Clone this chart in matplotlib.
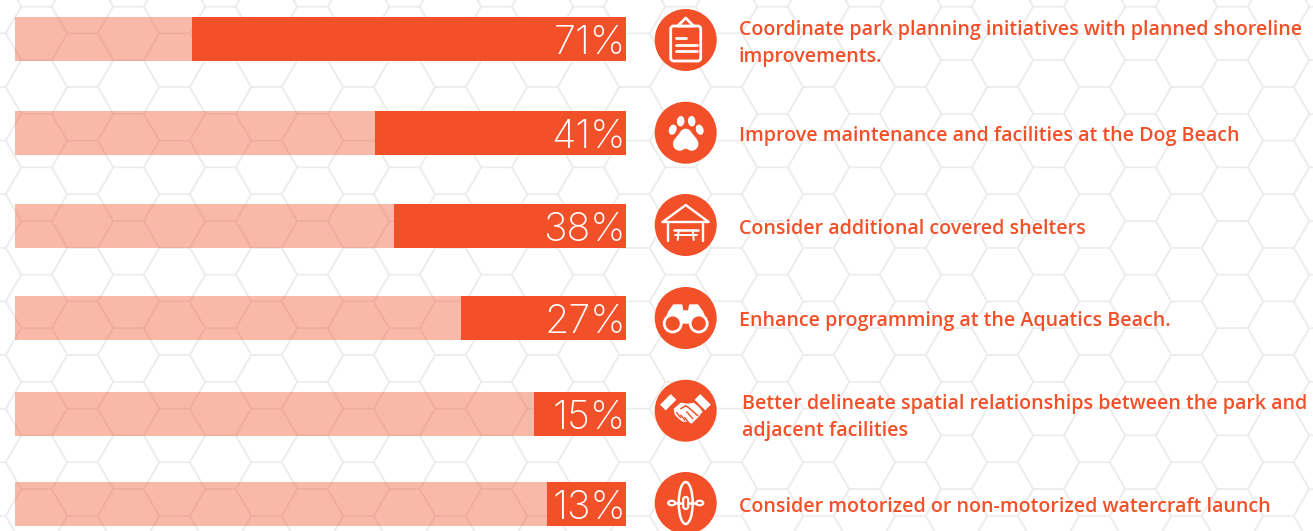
import matplotlib
matplotlib.use("Agg")
import matplotlib.pyplot as plt
import numpy as np
from matplotlib.collections import LineCollection
from matplotlib.patches import Circle, Ellipse, FancyBboxPatch, PathPatch, Polygon, Rectangle
from matplotlib.path import Path
from matplotlib.transforms import Affine2D

values = [71, 41, 38, 27, 15, 13]
labels = ["71%", "41%", "38%", "27%", "15%", "13%"]
actions = [
    "Coordinate park planning initiatives with planned shoreline\nimprovements.",
    "Improve maintenance and facilities at the Dog Beach",
    "Consider additional covered shelters",
    "Enhance programming at the Aquatics Beach.",
    "Better delineate spatial relationships between the park and\nadjacent facilities",
    "Consider motorized or non-motorized watercraft launch",
]

# layout in image pixels
bar_top = [17, 111, 204, 296, 392, 482]
bar_h = 44
icon_y = [40, 132.7, 225, 318, 410.7, 503]
icon_x = 685.7
text_x = [739, 739, 739, 739, 742, 739]
text_baseline = [35, 141, 234, 326, 409, 512]

ORANGE = "#f25029"
W, H = 1313, 531

fig = plt.figure(figsize=(13.13, 5.31), dpi=100, facecolor="white")
bg = fig.add_axes([0, 0, 1, 1], zorder=0)
bg.set_xlim(0, W)
bg.set_ylim(H, 0)
bg.axis("off")


def hex_grid():
    r = 31
    dy = 53.6
    h = dy / 2
    segs = []
    for j in range(-1, 22):
        for k in range(-1, 16):
            cx = 128.5 - 46 * ((j + 1) % 2) + 92 * k
            cy = 87 + h * (j - 3)
            pts = [(cx - r, cy), (cx - r / 2, cy - h), (cx + r / 2, cy - h),
                   (cx + r, cy), (cx + r / 2, cy + h), (cx - r / 2, cy + h), (cx - r, cy)]
            segs.append(pts)
    bg.add_collection(LineCollection(segs, colors="#ececec", linewidths=1.0, zorder=1))


hex_grid()

# bars
ax = fig.add_axes([15 / W, 0, 611 / W, 1], zorder=1)
ax.patch.set_alpha(0)
ax.set_xlim(0, 100)
ax.set_ylim(H, 0)
ax.axis("off")
ys = [t + bar_h / 2 for t in bar_top]
ax.barh(ys, [100] * 6, height=bar_h, color=ORANGE, alpha=0.4, linewidth=0)
ax.barh(ys, values, left=[100 - v for v in values], height=bar_h, color=ORANGE, linewidth=0)
for y, lab in zip(ys, labels):
    ax.text(100, y + 15, lab, ha="right", va="baseline", color="white",
            fontsize=28.5, family="Inter", weight="light")

# descriptions
for x, y, txt in zip(text_x, text_baseline, actions):
    for i, line in enumerate(txt.split("\n")):
        bg.text(x, y + i * 27, line, ha="left", va="baseline", color=ORANGE,
                fontsize=14.1, family="Open Sans", weight="semibold")


def stroke(pts, lw=2.0, color="white", z=4, cap="round"):
    xs, ys_ = zip(*pts)
    bg.plot(xs, ys_, color=color, lw=lw, zorder=z, solid_capstyle=cap, solid_joinstyle="round")


def clipboard(cx, cy):
    bg.add_patch(FancyBboxPatch((cx - 15, cy - 14), 30, 35, boxstyle="round,pad=0,rounding_size=3",
                                fc="none", ec="white", lw=2, zorder=4))
    bg.add_patch(Polygon([(cx - 8, cy - 14), (cx - 4, cy - 18), (cx, cy - 22), (cx + 4, cy - 18), (cx + 8, cy - 14)],
                         closed=True, fc=ORANGE, ec="white", lw=2, zorder=5, joinstyle="round"))
    stroke([(cx - 10, cy - 2), (cx, cy - 2)], 2)
    stroke([(cx - 10, cy + 4.5), (cx + 11, cy + 4.5)], 2)
    stroke([(cx - 10, cy + 11), (cx + 11, cy + 11)], 2)


def paw(cx, cy):
    for dx, dy, rot in [(-13, -3, 20), (-5, -11.5, 5), (6, -11.5, -5), (14, -3, -20)]:
        bg.add_patch(Ellipse((cx + dx, cy + dy), 7.5, 10.5, angle=rot, fc="white", zorder=4))
    verts = [(cx, cy - 4), (cx + 5, cy - 4), (cx + 6, cy + 1), (cx + 10, cy + 5),
             (cx + 16, cy + 12), (cx + 11, cy + 18), (cx + 6, cy + 18),
             (cx + 3, cy + 18), (cx + 2, cy + 16), (cx, cy + 16),
             (cx - 2, cy + 16), (cx - 3, cy + 18), (cx - 6, cy + 18),
             (cx - 11, cy + 18), (cx - 16, cy + 12), (cx - 10, cy + 5),
             (cx - 6, cy + 1), (cx - 5, cy - 4), (cx, cy - 4)]
    codes = [Path.MOVETO] + [Path.CURVE4] * 18
    bg.add_patch(PathPatch(Path(verts, codes), fc="white", ec="none", zorder=4))


def shelter(cx, cy):
    stroke([(cx - 23, cy - 3), (cx, cy - 20), (cx + 23, cy - 3), (cx - 23, cy - 3)], 1.7)
    stroke([(cx - 17.5, cy - 3), (cx - 17.5, cy + 16)], 1.7)
    stroke([(cx + 17.5, cy - 3), (cx + 17.5, cy + 16)], 1.7)
    stroke([(cx - 12, cy + 5), (cx + 12, cy + 5)], 1.8)
    stroke([(cx - 11, cy + 10), (cx + 11, cy + 10)], 1.4)
    stroke([(cx - 7, cy + 5), (cx - 8, cy + 15)], 1.4)
    stroke([(cx + 7, cy + 5), (cx + 8, cy + 15)], 1.4)


def binoculars(cx, cy):
    body = [(cx - 21, cy + 5), (cx - 17, cy - 6), (cx - 12, cy - 13), (cx - 4, cy - 13), (cx - 3, cy - 7),
            (cx + 3, cy - 7), (cx + 4, cy - 13), (cx + 12, cy - 13), (cx + 17, cy - 6), (cx + 21, cy + 5),
            (cx + 6, cy + 5), (cx - 6, cy + 5)]
    bg.add_patch(Polygon(body, closed=True, fc="white", ec="white", lw=1, zorder=4, joinstyle="round"))
    for dx in (-13, 13):
        bg.add_patch(Circle((cx + dx, cy + 5.5), 8.5, fc=ORANGE, ec="white", lw=2, zorder=5))


def handshake(cx, cy):
    # y axis is inverted, so a positive ang here leans the left cuff like "/"
    for dx, ang in [(-17.5, 45), (17, -45)]:
        tr = Affine2D().rotate_deg_around(cx + dx, cy - 8.5, -ang) + bg.transData
        bg.add_patch(Rectangle((cx + dx - 7.5, cy - 8.5 - 4), 15, 8, fc="white", ec="none", zorder=4, transform=tr))
    hands = [(cx - 12, cy - 2), (cx - 5, cy - 8), (cx + 2, cy - 7), (cx + 8, cy - 8), (cx + 13, cy - 4),
             (cx + 17, cy + 1), (cx + 13, cy + 6), (cx + 10, cy + 9), (cx + 6, cy + 13), (cx + 2, cy + 11),
             (cx - 3, cy + 11), (cx - 7, cy + 8), (cx - 11, cy + 4)]
    bg.add_patch(Polygon(hands, closed=True, fc="white", ec="none", zorder=4))
    stroke([(cx - 5, cy - 2), (cx, cy - 5), (cx + 3, cy - 3), (cx + 12, cy + 5)], 1.1, ORANGE, 5)
    for d in (0, 4, 8):
        stroke([(cx - 9 + d, cy + 2 + d * 0.6), (cx - 5 + d, cy + 7 + d * 0.6)], 1.0, ORANGE, 5)
    stroke([(cx + 1, cy + 1), (cx + 7, cy + 8)], 1.0, ORANGE, 5)


def kayak(cx, cy):
    bg.add_patch(Ellipse((cx, cy), 14, 42, fc="none", ec="white", lw=1.8, zorder=4))
    stroke([(cx - 12, cy), (cx + 12, cy)], 1.8)
    for dx in (-14, 14):
        bg.add_patch(Ellipse((cx + dx, cy), 7, 4.5, fc=ORANGE, ec="white", lw=1.6, zorder=5))
    bg.add_patch(FancyBboxPatch((cx - 2.5, cy - 6), 5, 12, boxstyle="round,pad=0,rounding_size=2.5",
                                fc=ORANGE, ec="white", lw=1.6, zorder=5))


icons = [clipboard, paw, shelter, binoculars, handshake, kayak]
for y, draw in zip(icon_y, icons):
    bg.add_patch(Circle((icon_x, y), 31, fc=ORANGE, ec="none", zorder=3))
    draw(icon_x, y)

fig.savefig("out.png", dpi=100)
